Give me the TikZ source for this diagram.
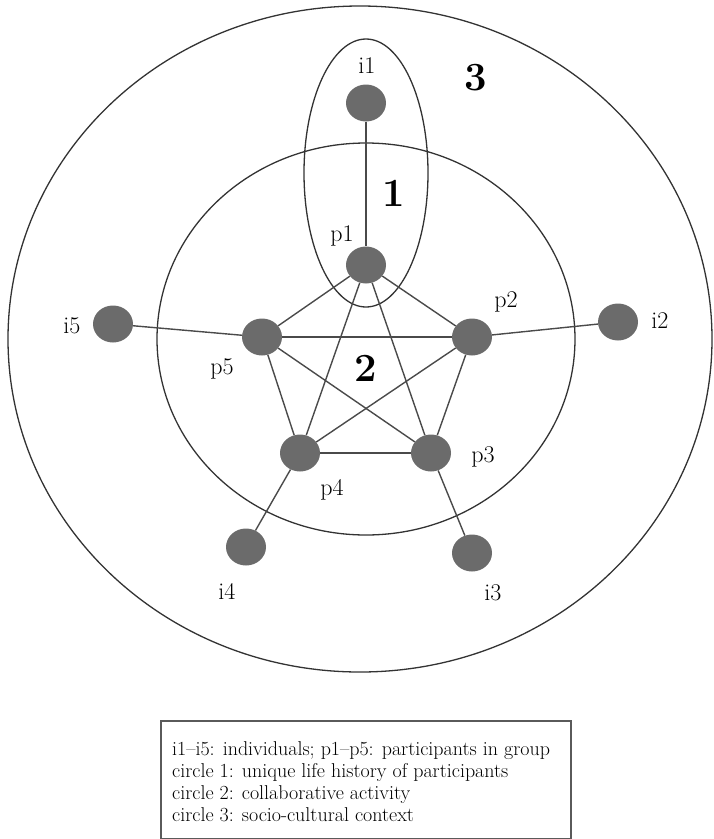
\documentclass[tikz,border=0pt]{standalone}
\usetikzlibrary{shapes.geometric}
\definecolor{nodegray}{HTML}{6B6B6B}
\definecolor{edgegray}{HTML}{4A4A4A}
\definecolor{ringgray}{HTML}{333333}
\definecolor{boxgray}{HTML}{5A5A5A}
\begin{document}
\begin{tikzpicture}[x=1pt,y=-1pt,
  dot/.style={ellipse,fill=nodegray,draw=none,minimum width=40pt,minimum height=37pt,inner sep=0pt},
  edge/.style={draw=edgegray,line width=1.4pt},
  ring/.style={draw=ringgray,line width=1.3pt},
  lab/.style={font=\fontsize{24}{26}\selectfont,inner sep=1pt},
  big/.style={font=\fontsize{40}{40}\selectfont\bfseries,inner sep=0pt},
  leg/.style={font=\fontsize{20}{22}\selectfont,anchor=base west,inner sep=0pt}]
\useasboundingbox (0,0) rectangle (714,839);
% rings
\draw[ring] (360,339) ellipse [x radius=352, y radius=333];
\draw[ring] (366,339) ellipse [x radius=209, y radius=196];
\draw[ring] (366,173) ellipse [x radius=62, y radius=134];
% nodes
\node[dot] (i1) at (366,103) {};
\node[dot] (p1) at (366,265) {};
\node[dot] (p2) at (472,337) {};
\node[dot] (p3) at (431,453) {};
\node[dot] (p4) at (300,453) {};
\node[dot] (p5) at (262,337) {};
\node[dot] (i2) at (618,322) {};
\node[dot] (i3) at (472,553) {};
\node[dot] (i4) at (246,547) {};
\node[dot] (i5) at (113,324) {};
% edges
\foreach \a/\b in {i1/p1,i2/p2,i3/p3,i4/p4,i5/p5,p1/p2,p1/p3,p1/p4,p1/p5,p2/p3,p2/p4,p2/p5,p3/p4,p3/p5,p4/p5}
  \draw[edge] (\a) -- (\b);
% labels
\node[lab] (li1) at (367,66) {i1};
\node[lab] (lp1) at (342,236) {p1};
\node[lab] (lp2) at (506,302) {p2};
\node[lab] (li2) at (660,321) {i2};
\node[lab] (li5) at (72,326) {i5};
\node[lab] (lp5) at (222,369) {p5};
\node[lab] (lp3) at (483,457) {p3};
\node[lab] (lp4) at (332,490) {p4};
\node[lab] (li4) at (227,591) {i4};
\node[lab] (li3) at (493,593) {i3};
\node[big] (n3) at (476,78) {3};
\node[big] (n1) at (394,193) {1};
\node[big] (n2) at (366,368) {2};
% legend
\node[draw=boxgray,line width=2.2pt,minimum width=410pt,minimum height=118pt,anchor=north west,inner sep=0pt] (box) at (160,720) {};
\node[leg] (l1) at (172,755) {i1--i5: individuals; p1--p5: participants in group};
\node[leg] (l2) at (172,777) {circle 1: unique life history of participants};
\node[leg] (l3) at (172,799) {circle 2: collaborative activity};
\node[leg] (l4) at (172,821) {circle 3: socio-cultural context};
\end{tikzpicture}
\end{document}
